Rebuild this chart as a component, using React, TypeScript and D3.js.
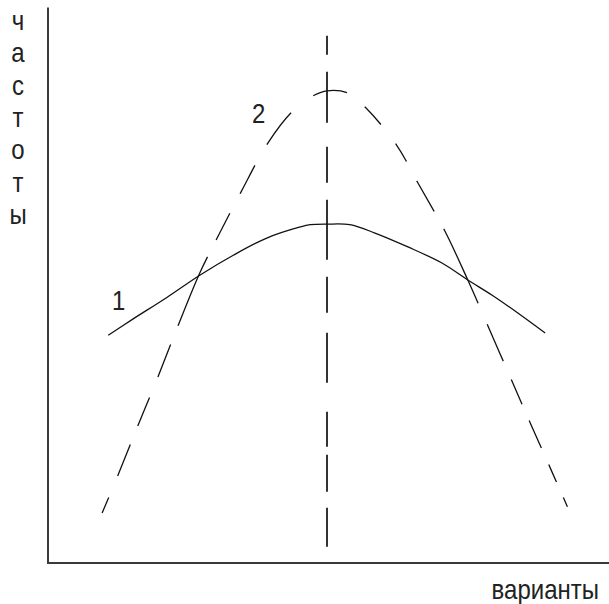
import React from 'react';
import * as d3 from 'd3';

// values (x: варианты 0..100, y: частоты 0..100)
const curveOneX = [10.8, 15.2, 21.3, 27.2, 33.2, 39.2, 45.2, 47.0, 50, 54.1, 58.6, 64.5, 70.6, 75.3, 79.6, 84.2, 89.1];
const curveOneY = [41.0, 43.9, 47.8, 51.8, 55.4, 58.5, 60.5, 60.9, 61.0, 60.9, 59.4, 56.9, 54.0, 50.9, 48.2, 45.0, 41.4];

const curveTwoX = [9.7, 12.5, 16.1, 19.7, 23.3, 27.2, 30.1, 34.6, 39.4, 43.9, 47.7, 50, 53.8, 57.0, 62.5, 66.3, 71.1, 75.3, 79.0, 83.3, 86.6, 90.1, 93.5];
const curveTwoY = [9.0, 15.7, 24.7, 33.5, 42.7, 52.2, 58.1, 66.8, 75.6, 81.4, 84.2, 85.0, 84.6, 81.9, 75.2, 68.4, 59.8, 50.8, 42.3, 32.4, 24.8, 16.9, 9.2];

const modeX = 50;
const modeTop = 94.9;
const modeBottom = 2.9;

const yLetters = ['ч', 'а', 'с', 'т', 'о', 'т', 'ы'];
const xLabel = 'варианты';
const curveLabels = ['1', '2'];

const W = 609;
const H = 604;

const App = () => {
  const x = d3.scaleLinear().domain([0, 100]).range([48, 606]);
  const y = d3.scaleLinear().domain([0, 100]).range([563, 7.5]);

  const line = d3.line<[number, number]>()
    .x(d => x(d[0]))
    .y(d => y(d[1]))
    .curve(d3.curveCatmullRom.alpha(0.5));

  const one = curveOneX.map((v, i) => [v, curveOneY[i]] as [number, number]);
  const two = curveTwoX.map((v, i) => [v, curveTwoY[i]] as [number, number]);

  const font = '"Liberation Sans", Arial, sans-serif';

  // glyphs in the picture are a bit taller than Liberation Sans
  const tall = (tx: number, ty: number) => `translate(${tx},${ty}) scale(1,1.12)`;

  return (
    <svg width={W} height={H} style={{ position: 'absolute', left: 0, top: 0, background: '#fff' }}>
      {/* axes */}
      <line x1={x(0)} x2={x(0)} y1={y(100)} y2={y(0)} stroke="#3a3a3a" strokeWidth={2} />
      <line x1={x(0) - 1} x2={W} y1={y(0)} y2={y(0)} stroke="#3a3a3a" strokeWidth={2} />

      {/* mode line */}
      <line x1={x(modeX)} x2={x(modeX)} y1={y(modeTop)} y2={y(modeBottom)}
        stroke="#333" strokeWidth={2}
        strokeDasharray="19,17,51,24,36,17,60,17,36,20,50,29,35,8,37,16,39,40" />

      {/* curve 1 */}
      <path d={line(one) || ''} fill="none" stroke="#111" strokeWidth={1.3} />

      {/* curve 2 */}
      <path d={line(two) || ''} fill="none" stroke="#111" strokeWidth={1.3}
        strokeDasharray="17,23,34,20,31,22,35,20,75,19,30,22,32,24,40,28,35,23,24,24,21,22,35,20,82,23,40,20,27,18,30,18,19,17,10,40" />

      {/* labels */}
      {yLetters.map((c, i) => (
        <text key={i} transform={tall(18, 30 + i * 32.3)} textAnchor="middle" fontFamily={font} fontSize={24} fill="#222">{c}</text>
      ))}
      <text transform={tall(599, 599)} textAnchor="end" fontFamily={font} fontSize={24} fill="#222">{xLabel}</text>
      <text transform={tall(112, 310)} fontFamily={font} fontSize={24} fill="#222">{curveLabels[0]}</text>
      <text transform={tall(252, 123)} fontFamily={font} fontSize={24} fill="#222">{curveLabels[1]}</text>
    </svg>
  );
};

export default App;
